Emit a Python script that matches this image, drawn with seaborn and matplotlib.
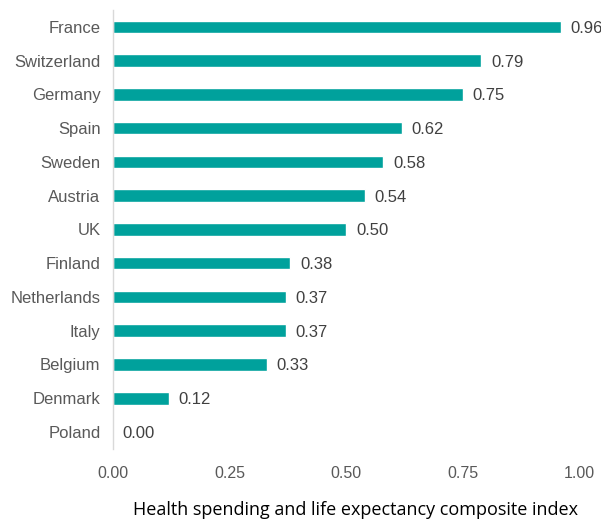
import matplotlib
matplotlib.use("Agg")
import matplotlib.pyplot as plt
import seaborn as sns
import pandas as pd

countries = ["France", "Switzerland", "Germany", "Spain", "Sweden", "Austria", "UK",
             "Finland", "Netherlands", "Italy", "Belgium", "Denmark", "Poland"]
values = [0.96, 0.79, 0.75, 0.62, 0.58, 0.54, 0.50, 0.38, 0.37, 0.37, 0.33, 0.12, 0.00]
xticks = [0.0, 0.25, 0.5, 0.75, 1.0]

df = pd.DataFrame({"country": countries, "value": values})

sns.set_style("white")
plt.rcParams["font.family"] = ["Liberation Sans", "DejaVu Sans"]

fig = plt.figure(figsize=(6.01, 5.19), dpi=100)
ax = fig.add_axes([0.188, 0.135, 0.776, 0.846])

sns.barplot(data=df, x="value", y="country", orient="h", color="#00A19C",
            width=0.37, saturation=1, ax=ax)

for c in ax.containers:
    labels = ax.bar_label(c, fmt="%.2f", padding=7, fontsize=12, color="#404040")
    for t in labels:
        t.set_clip_on(False)
        t.set_verticalalignment("center_baseline")

ax.set_xlim(0, 1.0)
ax.set_ylim(len(countries) - 0.5, -0.5)
ax.set_xticks(xticks)
ax.set_xticklabels([f"{v:.2f}" for v in xticks])
ax.tick_params(axis="x", length=0, pad=12, labelsize=11.5, labelcolor="#595959")
ax.tick_params(axis="y", length=0, pad=9, labelsize=12, labelcolor="#595959")
ax.set_ylabel("")
ax.set_xlabel("Health spending and life expectancy composite index",
              fontsize=13, family=["Open Sans", "DejaVu Sans"], color="black")
ax.xaxis.set_label_coords(0.52, -0.118)

for s in ["top", "right", "bottom"]:
    ax.spines[s].set_visible(False)
ax.spines["left"].set_color("#D9D9D9")
ax.spines["left"].set_linewidth(1)

fig.savefig("out.png", dpi=100)
